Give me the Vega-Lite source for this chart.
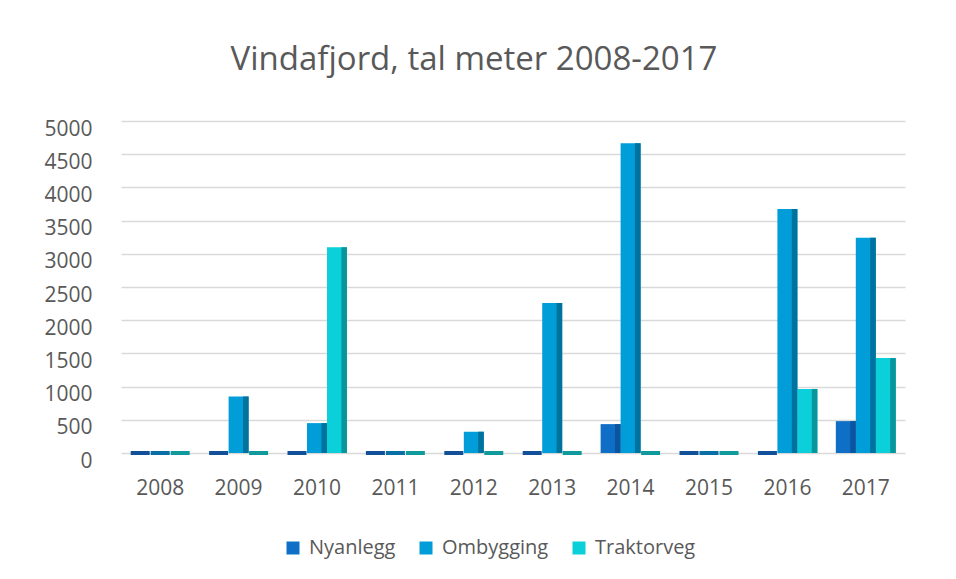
{
  "$schema": "https://vega.github.io/schema/vega-lite/v6.json",
  "width": 784,
  "height": 332,
  "autosize": {"type": "none"},
  "padding": {"left": 121, "top": 121, "right": 51, "bottom": 126},
  "background": "white",
  "title": {
    "text": "Vindafjord, tal meter 2008-2017",
    "fontSize": 33,
    "font": "Open Sans",
    "fontWeight": "normal",
    "color": "#595959",
    "anchor": "middle",
    "dx": -39,
    "offset": 41
  },
  "data": {
    "values": [
      {"year": "2008", "type": "Nyanlegg", "value": 0},
      {"year": "2008", "type": "Ombygging", "value": 0},
      {"year": "2008", "type": "Traktorveg", "value": 0},
      {"year": "2009", "type": "Nyanlegg", "value": 0},
      {"year": "2009", "type": "Ombygging", "value": 850},
      {"year": "2009", "type": "Traktorveg", "value": 0},
      {"year": "2010", "type": "Nyanlegg", "value": 0},
      {"year": "2010", "type": "Ombygging", "value": 450},
      {"year": "2010", "type": "Traktorveg", "value": 3100},
      {"year": "2011", "type": "Nyanlegg", "value": 0},
      {"year": "2011", "type": "Ombygging", "value": 0},
      {"year": "2011", "type": "Traktorveg", "value": 0},
      {"year": "2012", "type": "Nyanlegg", "value": 0},
      {"year": "2012", "type": "Ombygging", "value": 320},
      {"year": "2012", "type": "Traktorveg", "value": 0},
      {"year": "2013", "type": "Nyanlegg", "value": 0},
      {"year": "2013", "type": "Ombygging", "value": 2260},
      {"year": "2013", "type": "Traktorveg", "value": 0},
      {"year": "2014", "type": "Nyanlegg", "value": 435},
      {"year": "2014", "type": "Ombygging", "value": 4665},
      {"year": "2014", "type": "Traktorveg", "value": 0},
      {"year": "2015", "type": "Nyanlegg", "value": 0},
      {"year": "2015", "type": "Ombygging", "value": 0},
      {"year": "2015", "type": "Traktorveg", "value": 0},
      {"year": "2016", "type": "Nyanlegg", "value": 0},
      {"year": "2016", "type": "Ombygging", "value": 3675},
      {"year": "2016", "type": "Traktorveg", "value": 965},
      {"year": "2017", "type": "Nyanlegg", "value": 480},
      {"year": "2017", "type": "Ombygging", "value": 3240},
      {"year": "2017", "type": "Traktorveg", "value": 1430}
    ]
  },
  "encoding": {
    "x": {
      "field": "year",
      "type": "ordinal",
      "scale": {"paddingInner": 0.235, "paddingOuter": 0.1175},
      "axis": {
        "title": null,
        "labelAngle": 0,
        "labelFontSize": 21,
        "labelFont": "Open Sans",
        "labelColor": "#595959",
        "labelPadding": 24,
        "ticks": false,
        "domain": false
      }
    },
    "y": {
      "field": "value",
      "type": "quantitative",
      "scale": {"domain": [0, 5000], "nice": false},
      "axis": {
        "title": null,
        "format": "d",
        "values": [0, 500, 1000, 1500, 2000, 2500, 3000, 3500, 4000, 4500, 5000],
        "labelFontSize": 21,
        "labelFont": "Open Sans",
        "labelColor": "#595959",
        "labelPadding": 29,
        "ticks": false,
        "domain": false,
        "gridColor": "#D9D9D9",
        "gridWidth": 1.5,
        "labelBaseline": "middle",
        "labelOffset": 8
      }
    }
  },
  "layer": [
    {
      "transform": [{"filter": "datum.value == 0"}],
      "mark": {"type": "tick", "thickness": 4, "size": 19, "orient": "horizontal", "opacity": 1},
      "encoding": {
        "xOffset": {"field": "type", "type": "nominal", "sort": ["Nyanlegg", "Ombygging", "Traktorveg"]},
        "color": {
          "field": "type",
          "type": "nominal",
          "scale": {"domain": ["Nyanlegg", "Ombygging", "Traktorveg"], "range": ["#12509A", "#0A6FA6", "#119A9C"]},
          "legend": null
        }
      }
    },
    {
      "transform": [{"filter": "datum.value > 0"}],
      "mark": {"type": "bar", "opacity": 1},
      "encoding": {
        "xOffset": {"field": "type", "type": "nominal", "sort": ["Nyanlegg", "Ombygging", "Traktorveg"], "scale": {"paddingInner": 0, "paddingOuter": 0}},
        "color": {
          "field": "type",
          "type": "nominal",
          "scale": {"domain": ["Nyanlegg", "Ombygging", "Traktorveg"], "range": ["#0F6FC6", "#009DD9", "#0BD0D9"]},
          "legend": {
            "title": null,
            "orient": "none",
            "direction": "horizontal",
            "legendX": 162,
            "legendY": 417,
            "symbolType": "square",
            "symbolSize": 169,
            "symbolStrokeWidth": 0,
            "symbolOpacity": 1,
            "labelFontSize": 20,
            "labelFont": "Open Sans",
            "labelColor": "#595959",
            "columnPadding": 20,
            "labelOffset": 6
          }
        }
      }
    },
    {
      "transform": [{"filter": "datum.value > 0"}],
      "mark": {"type": "bar", "opacity": 1},
      "encoding": {
        "xOffset": {"field": "type", "type": "nominal", "sort": ["Nyanlegg", "Ombygging", "Traktorveg"], "scale": {"paddingInner": 0.72, "paddingOuter": 0.36, "align": 1}},
        "color": {
          "field": "type",
          "type": "nominal",
          "scale": {"domain": ["Nyanlegg", "Ombygging", "Traktorveg"], "range": ["#0B54A0", "#00729E", "#08969C"]},
          "legend": null
        }
      }
    }
  ],
  "resolve": {"scale": {"color": "independent", "xOffset": "independent"}},
  "config": {
    "view": {"stroke": null}
  }
}
